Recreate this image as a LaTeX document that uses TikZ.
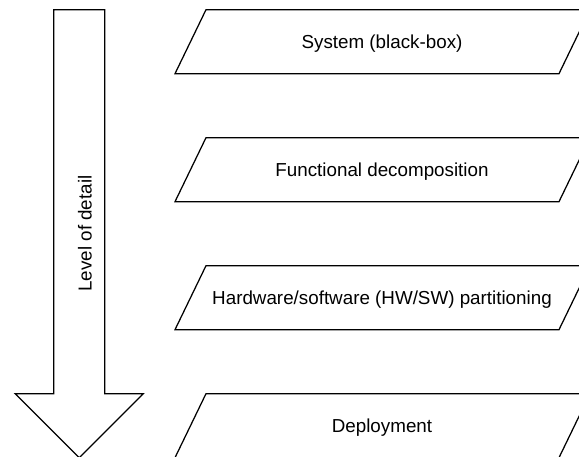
\documentclass[tikz,border=0pt]{standalone}
\usepackage{fontspec}
\setmainfont{Liberation Sans}
\begin{document}
\begin{tikzpicture}[x=1pt,y=-1pt,
  outline/.style={draw=black,line width=1.25pt,line join=miter,fill=white},
  label/.style={font=\fontsize{18.8}{22}\selectfont,text=black,inner sep=0pt,anchor=base},
  sidelabel/.style={font=\fontsize{18.8}{22}\selectfont,text=black,inner sep=0pt,rotate=90}]
\useasboundingbox (0,0) rectangle (579,457);

% big downward arrow: shaft and triangular head
\draw[outline] (53.7,9.7) -- (104.7,9.7) -- (104.7,393.7) -- (143.2,393.7)
  -- (79.2,457.7) -- (15.2,393.7) -- (53.7,393.7) -- cycle;
\node[sidelabel] (lvl) at (85,233.5) {Level of detail};

% stages as parallelograms, one row every 128 units
\foreach \name/\top/\txt in {sys/9.7/{System (black-box)},
                             fun/137.7/{Functional decomposition},
                             hws/265.7/{Hardware/software (HW/SW) partitioning},
                             dep/393.7/{Deployment}}{
  \draw[outline] (206,\top) -- (590,\top) -- (559,\top+64) -- (175,\top+64) -- cycle;
  \node[label] (\name) at (382,\top+38.8) {\txt};
}
\end{tikzpicture}
\end{document}
